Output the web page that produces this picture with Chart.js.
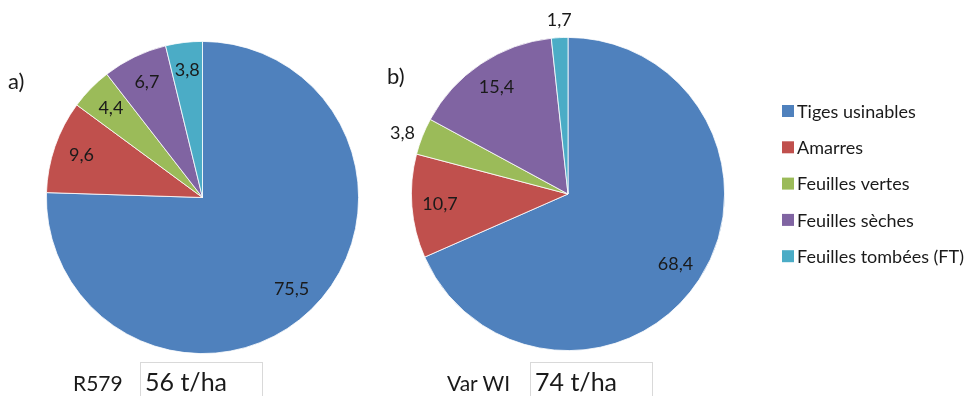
<!DOCTYPE html>
<html lang="fr">
<head>
<meta charset="utf-8">
<script src="https://cdn.jsdelivr.net/npm/chart.js@4.4.1/dist/chart.umd.min.js"></script>
<style>
body{margin:0;background:#fff;font-family:Lato,sans-serif;color:#1a1a1a}
#wrap{position:relative;width:975px;height:396px;overflow:hidden}
canvas{position:absolute;top:0}
#cA{left:0}
#cB{left:370px}
.tag{position:absolute;font-size:22px;line-height:1}
.var{position:absolute;font-size:21px;line-height:1}
.box{position:absolute;top:362px;width:123px;height:45px;border:1px solid #d9d9d9;box-sizing:border-box;
 font-size:25px;line-height:25px;padding:6px 0 0 4px}
</style>
</head>
<body>
<div id="wrap">
<canvas id="cA" width="370" height="396"></canvas>
<canvas id="cB" width="605" height="396"></canvas>
<div class="tag" style="left:8px;top:70px">a)</div>
<div class="tag" style="left:387px;top:65px">b)</div>
<div class="var" id="nameA" style="left:73px;top:372px"></div>
<div class="box" id="yieldA" style="left:140px"></div>
<div class="var" id="nameB" style="left:447px;top:372px"></div>
<div class="box" id="yieldB" style="left:530px"></div>
</div>
<script>
// biomass shares (%) per component, one pie per variety
const categories=["Tiges usinables","Amarres","Feuilles vertes","Feuilles sèches","Feuilles tombées (FT)"];
const varieties=["R579","Var WI"];
const valuesR579=[75.5,9.6,4.4,6.7,3.8];
const valuesVarWI=[68.4,10.7,3.8,15.4,1.7];
const yields=[56,74]; // t/ha

const colors=["#4f81bd","#c0504d","#9bbb59","#8064a2","#4bacc6"];

document.getElementById("nameA").innerText=varieties[0];
document.getElementById("nameB").innerText=varieties[1];
document.getElementById("yieldA").innerText=yields[0]+" t/ha";
document.getElementById("yieldB").innerText=yields[1]+" t/ha";

const fmt=v=>v.toFixed(1).replace(".",",");

// value labels: inside at 82% of the radius, or just outside the rim
const sliceLabels={
 id:"sliceLabels",
 afterDatasetsDraw(chart,args,opts){
  const ctx=chart.ctx;
  const vals=chart.data.datasets[0].data;
  const out=opts.outside||[];
  ctx.save();
  ctx.font="18px Lato";
  ctx.fillStyle="#1a1a1a";
  chart.getDatasetMeta(0).data.forEach((arc,i)=>{
   const p=arc.getProps(["x","y","startAngle","endAngle","outerRadius"],true);
   const mid=(p.startAngle+p.endAngle)/2;
   const dx=Math.cos(mid),dy=Math.sin(mid);
   if(out[i]){
    const r=p.outerRadius+8;
    ctx.textAlign=dx<-0.3?"right":dx>0.3?"left":"center";
    ctx.textBaseline=dy<-0.5?"bottom":dy>0.5?"top":"middle";
    ctx.fillText(fmt(vals[i]),p.x+dx*r,p.y+dy*r);
   }else{
    const r=p.outerRadius*0.82;
    ctx.textAlign="center";
    ctx.textBaseline="middle";
    ctx.fillText(fmt(vals[i]),p.x+dx*r,p.y+dy*r);
   }
  });
  ctx.restore();
 }
};

// legend list to the right of the second pie
const sideLegend={
 id:"sideLegend",
 afterDraw(chart,args,opts){
  if(!opts.show) return;
  const ctx=chart.ctx;
  const bg=chart.data.datasets[0].backgroundColor;
  ctx.save();
  ctx.font="18px Lato";
  ctx.textAlign="left";
  ctx.textBaseline="middle";
  chart.data.labels.forEach((lab,i)=>{
   const y=opts.top+i*opts.step;
   ctx.fillStyle=bg[i];
   ctx.fillRect(opts.left,y-6,12,12);
   ctx.fillStyle="#1a1a1a";
   ctx.fillText(lab,opts.left+15,y+1);
  });
  ctx.restore();
 }
};

function makePie(id,values,pad,extra){
 return new Chart(document.getElementById(id),{
  type:"pie",
  data:{
   labels:categories,
   datasets:[{data:values,backgroundColor:colors,borderColor:"#ffffff",borderWidth:0.8}]
  },
  options:{
   responsive:false,
   animation:false,
   layout:{padding:pad},
   plugins:{
    legend:{display:false},
    tooltip:{enabled:false},
    sliceLabels:extra.labels,
    sideLegend:extra.legend
   }
  },
  plugins:[sliceLabels,sideLegend]
 });
}

makePie("cA",valuesR579,{left:46,top:41,right:11,bottom:42},
 {labels:{outside:[]},legend:{show:false}});
makePie("cB",valuesVarWI,{left:41,top:37,right:250,bottom:45},
 {labels:{outside:[false,false,true,false,true]},legend:{show:true,left:412,top:111,step:36.3}});
</script>
</body>
</html>
